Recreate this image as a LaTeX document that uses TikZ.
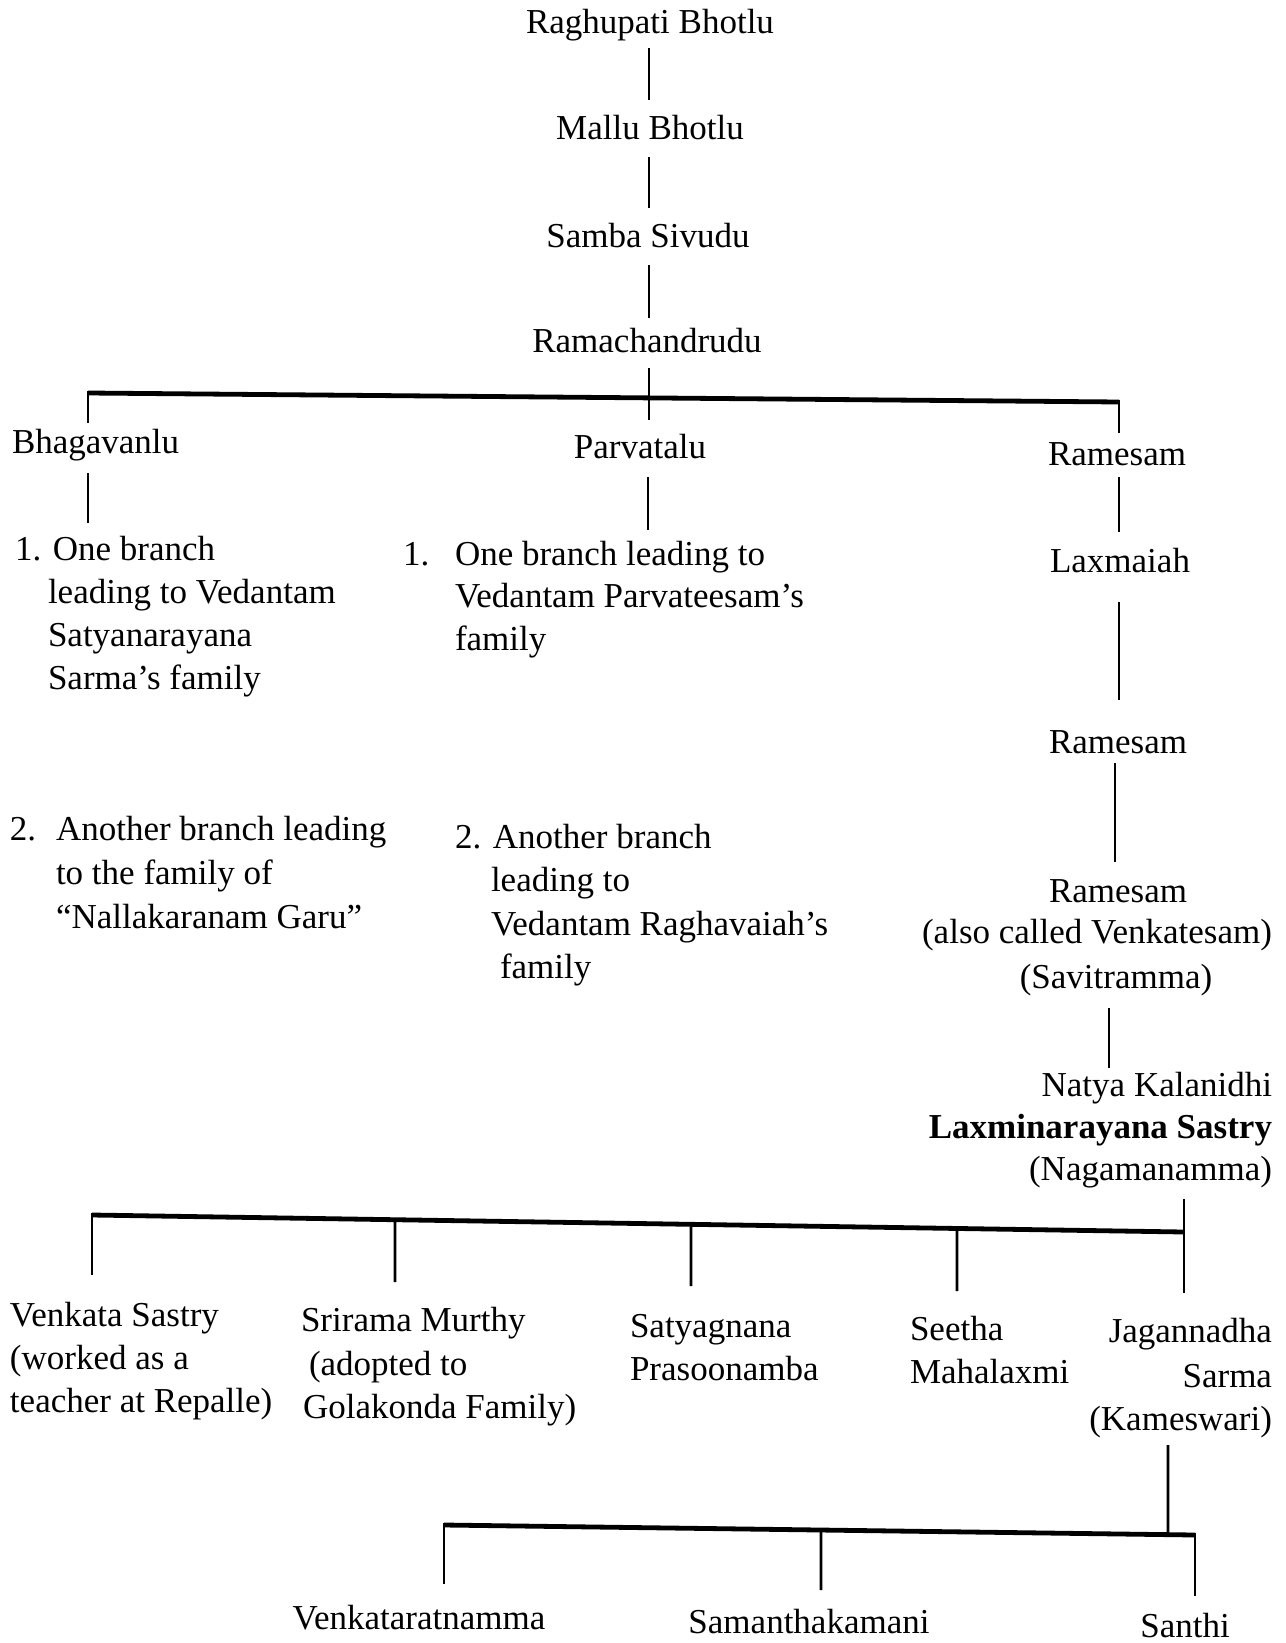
\documentclass[tikz,border=0pt]{standalone}
\usepackage{fontspec}
\setmainfont{Liberation Serif}
\usetikzlibrary{calc}
\newcommand{\fsz}{\fontsize{17.5}{21.5}\selectfont}
\begin{document}
\begin{tikzpicture}[x=0.5pt,y=-0.5pt,
  txt/.style={inner sep=0pt, outer sep=0pt, font=\fsz, text=black},
  lnk/.style={line width=1.3pt},
  bar/.style={line width=2.4pt}]
\useasboundingbox[fill=white] (0,0) rectangle (1285,1643);
% top chain
\node[txt,anchor=base] (rag) at (650,34) {Raghupati Bhotlu};
\node[txt,anchor=base] (mal) at (650,140) {Mallu Bhotlu};
\node[txt,anchor=base] (sam) at (648,247) {Samba Sivudu};
\node[txt,anchor=base] (ram) at (647,352) {Ramachandrudu};
\node[txt,anchor=base west] (bhag) at (12,453) {Bhagavanlu};
\node[txt,anchor=base] (parv) at (640,458) {Parvatalu};
\node[txt,anchor=base] (rama) at (1117,465) {Ramesam};
% left block
\node[txt,anchor=base west] (bA1) at (15,560) {1. One branch};
\node[txt,anchor=base west] (bA2) at (48,603) {leading to Vedantam};
\node[txt,anchor=base west] (bA3) at (48,646) {Satyanarayana};
\node[txt,anchor=base west] (bA4) at (48,689) {Sarma’s family};
\node[txt,anchor=base west] (bBn) at (10,840) {2.};
\node[txt,anchor=base west] (bB1) at (56,840) {Another branch leading};
\node[txt,anchor=base west] (bB2) at (56,884) {to the family of};
\node[txt,anchor=base west] (bB3) at (56,928) {“Nallakaranam Garu”};
% middle block
\node[txt,anchor=base west] (pAn) at (403,565) {1.};
\node[txt,anchor=base west] (pA1) at (455,565) {One branch leading to};
\node[txt,anchor=base west] (pA2) at (455,607) {Vedantam Parvateesam’s};
\node[txt,anchor=base west] (pA3) at (455,650) {family};
\node[txt,anchor=base west] (pB1) at (455,848) {2. Another branch};
\node[txt,anchor=base west] (pB2) at (491,891) {leading to};
\node[txt,anchor=base west] (pB3) at (491,935) {Vedantam Raghavaiah’s};
\node[txt,anchor=base west] (pB4) at (500,978) {family};
% right column
\node[txt,anchor=base] (lax) at (1120,572) {Laxmaiah};
\node[txt,anchor=base] (ramb) at (1118,753) {Ramesam};
\node[txt,anchor=base] (ramc) at (1118,902) {Ramesam};
\node[txt,anchor=base] (venk) at (1097,943) {(also called Venkatesam)};
\node[txt,anchor=base] (savi) at (1116,988) {(Savitramma)};
\node[txt,anchor=base east] (natya) at (1272,1096) {Natya Kalanidhi};
\node[txt,anchor=base east,font=\fsz\bfseries] (lns) at (1272,1138) {Laxminarayana Sastry};
\node[txt,anchor=base east] (naga) at (1272,1180) {(Nagamanamma)};
% children
\node[txt,anchor=base west] (vs1) at (10,1326) {Venkata Sastry};
\node[txt,anchor=base west] (vs2) at (10,1369) {(worked as a};
\node[txt,anchor=base west] (vs3) at (10,1412) {teacher at Repalle)};
\node[txt,anchor=base west] (sm1) at (301,1331) {Srirama Murthy};
\node[txt,anchor=base west] (sm2) at (309,1375) {(adopted to};
\node[txt,anchor=base west] (sm3) at (303,1418) {Golakonda Family)};
\node[txt,anchor=base west] (sp1) at (630,1337) {Satyagnana};
\node[txt,anchor=base west] (sp2) at (630,1380) {Prasoonamba};
\node[txt,anchor=base west] (se1) at (910,1340) {Seetha};
\node[txt,anchor=base west] (se2) at (910,1383) {Mahalaxmi};
\node[txt,anchor=base east] (jg1) at (1272,1342) {Jagannadha};
\node[txt,anchor=base east] (jg2) at (1272,1387) {Sarma};
\node[txt,anchor=base east] (jg3) at (1272,1430) {(Kameswari)};
\node[txt,anchor=base] (gc1) at (419,1629) {Venkataratnamma};
\node[txt,anchor=base] (gc2) at (809,1633) {Samanthakamani};
\node[txt,anchor=base] (gc3) at (1185,1637) {Santhi};
% connectors
\draw[lnk] ($(rag.base)+(-1,14)$) -- ($(mal.base)+(-1,-40)$);
\draw[lnk] ($(mal.base)+(-1,17)$) -- ($(sam.base)+(1,-39)$);
\draw[lnk] ($(sam.base)+(1,18)$) -- ($(ram.base)+(2,-34)$);
\draw[lnk] ($(ram.base)+(2,16)$) -- ($(parv.base)+(9,-38)$);
\coordinate (b1l) at (88,393);
\coordinate (b1r) at (1119,402);
\draw[bar] (b1l) -- (b1r);
\draw[lnk] ($(b1l)+(0,-2)$) -- ($(bhag.base west)+(76,-30)$);
\draw[lnk] ($(b1r)+(0,-2)$) -- ($(rama.base)+(2,-32)$);
\draw[lnk] ($(bhag.base west)+(76,20)$) -- ($(bA1.base west)+(73,-37)$);
\draw[lnk] ($(parv.base)+(8,19)$) -- ($(pA1.base west)+(193,-35)$);
\draw[lnk] ($(rama.base)+(2,12)$) -- ($(lax.base)+(-1,-40)$);
\draw[lnk] ($(lax.base)+(-1,30)$) -- ($(ramb.base)+(1,-53)$);
\draw[lnk] ($(ramb.base)+(-3,10)$) -- ($(ramc.base)+(-3,-40)$);
\draw[lnk] ($(savi.base)+(-7,20)$) -- ($(natya.base east)+(-163,-28)$);
\coordinate (b2l) at (92,1215);
\coordinate (b2r) at (1184,1232);
\draw[bar] (b2l) -- (b2r);
\draw[lnk] ($(naga.base east)+(-88,19)$) -- ($(jg1.base east)+(-88,-49)$);
\draw[lnk] ($(b2l)+(0,-2)$) -- ($(vs1.base west)+(82,-51)$);
\draw[lnk] ($(b2l)!0.2775!(b2r)$) -- ($(sm1.base west)+(94,-49)$);
\draw[lnk] ($(b2l)!0.5485!(b2r)$) -- ($(sp1.base west)+(61,-51)$);
\draw[lnk] ($(b2l)!0.7921!(b2r)$) -- ($(se1.base west)+(47,-49)$);
\coordinate (b3l) at (444,1525);
\coordinate (b3r) at (1195,1535);
\draw[bar] (b3l) -- (b3r);
\draw[lnk] ($(jg3.base east)+(-104,15)$) -- ($(b3l)!0.964!(b3r)$);
\draw[lnk] ($(b3l)+(0,-2)$) -- ($(gc1.base)+(25,-45)$);
\draw[lnk] ($(b3l)!0.502!(b3r)$) -- ($(gc2.base)+(12,-43)$);
\draw[lnk] ($(b3r)+(0,-2)$) -- ($(gc3.base)+(10,-41)$);
\end{tikzpicture}
\end{document}
